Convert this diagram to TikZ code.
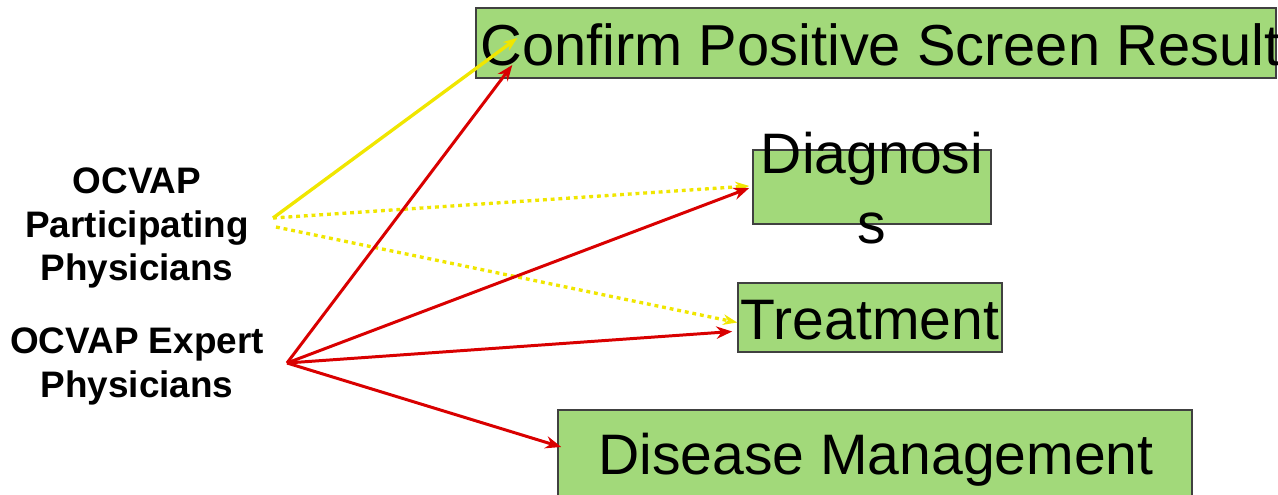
\documentclass[tikz,border=0pt]{standalone}
\usepackage{fontspec}
\setmainfont{Liberation Sans}
\usetikzlibrary{arrows.meta}
\definecolor{boxgreen}{RGB}{162,217,122}
\definecolor{boxline}{RGB}{64,64,64}
\definecolor{linkred}{RGB}{217,0,0}
\definecolor{linkyellow}{RGB}{240,230,0}
\begin{document}
\begin{tikzpicture}[x=0.02cm, y=-0.02cm,
	stage/.style={rectangle, draw=boxline, line width=0.9pt, fill=boxgreen, inner sep=0pt},
	stagetext/.style={inner sep=0pt, font=\fontsize{32.5}{40}\selectfont, align=center},
	who/.style={inner sep=0pt, font=\fontsize{21}{25}\selectfont\bfseries, align=center},
	redlink/.style={draw=linkred, line width=1.7pt, -{Stealth[length=9pt,width=7pt]}},
	yellowlink/.style={draw=linkyellow, line width=1.9pt, -{Stealth[length=8pt,width=6pt]}},
	yellowdots/.style={yellowlink, dash pattern=on 2.2pt off 2.2pt}]
	\useasboundingbox (0,0) rectangle (1278,494);
	% the four stages
	\node (confirm) at (876,43) [stage, minimum width=16cm, minimum height=1.4cm] {};
	\node (diag) at (872,187) [stage, minimum width=4.76cm, minimum height=1.48cm] {};
	\node (treat) at (870,317.5) [stage, minimum width=5.28cm, minimum height=1.38cm] {};
	\node (dis) at (875,460) [stage, minimum width=12.68cm, minimum height=2cm] {};
	\node (confirmtext) at (480,45) [stagetext, anchor=west, font=\fontsize{32.9}{40}\selectfont] {Confirm Positive Screen Result};
	\node (diagtext) at (872,188) [stagetext] {Diagnosi\\s};
	\node (treattext) at (870,320) [stagetext] {Treatment};
	\node (distext) at (876,460) [stagetext] {Disease Management};
	% the two groups of physicians
	\node (part) at (137,228) [who] {OCVAP\\Participating\\Physicians};
	\node (expert) at (137,366) [who] {OCVAP Expert\\Physicians};
	\coordinate (py) at (273,218);
	\coordinate (pl) at (276,227);
	\coordinate (ex) at (287,363);
	% links
	\draw [yellowlink] (py) -- ([shift={(42,-5)}]confirm.west);
	\draw [yellowdots] (py) -- ([shift={(-3,-1)}]diag.west);
	\draw [yellowdots] (pl) -- ([shift={(0,5)}]treat.west);
	\draw [redlink] (ex) -- ([shift={(37,22)}]confirm.west);
	\draw [redlink] (ex) -- ([shift={(-3,1)}]diag.west);
	\draw [redlink] (ex) -- ([shift={(-5,14)}]treat.west);
	\draw [redlink] (ex) -- ([shift={(4,-13)}]dis.west);
\end{tikzpicture}
\end{document}
